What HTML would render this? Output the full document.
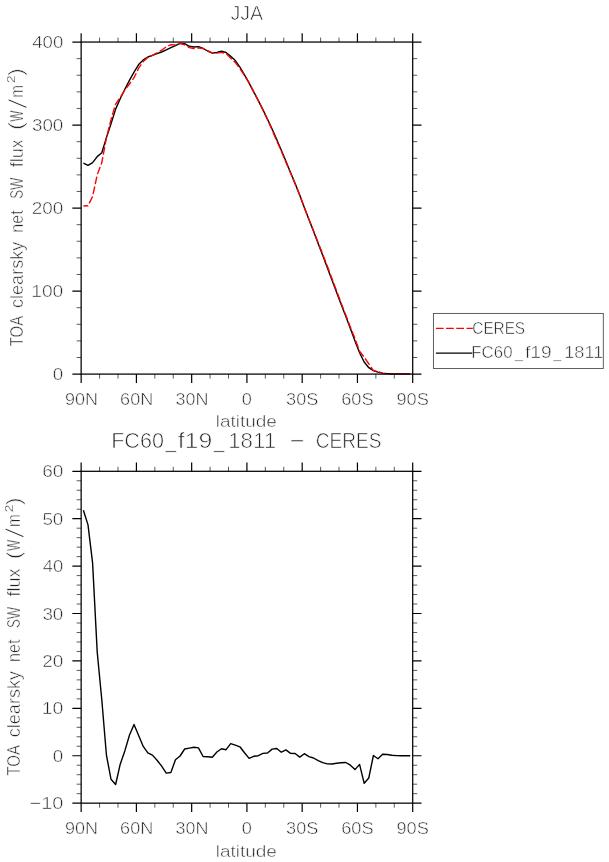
<!DOCTYPE html>
<html lang="en"><head><meta charset="utf-8"><title>JJA TOA clearsky net SW flux</title>
<style>html,body{margin:0;padding:0;background:#fff}body{width:609px;height:862px;overflow:hidden}svg{display:block}</style></head>
<body>
<svg width="609" height="862" viewBox="0 0 609 862" role="img" aria-label="JJA TOA clearsky net SW flux zonal mean line plots">
<rect width="609" height="862" fill="#fff"/>
<path d="M83.40,163.05 L88.00,165.40 L92.61,162.70 L97.21,156.60 L101.81,152.80 L106.42,137.60 L111.02,123.70 L115.62,109.10 L120.22,98.80 L124.83,89.20 L129.43,80.40 L134.03,72.20 L138.64,64.60 L143.24,59.90 L147.84,57.00 L152.44,55.30 L157.05,53.65 L161.65,52.00 L166.25,49.85 L170.86,47.70 L175.46,45.60 L180.06,43.40 L184.67,43.60 L189.27,46.30 L193.87,47.00 L198.47,46.60 L203.08,48.50 L207.68,51.00 L212.28,53.10 L216.89,52.50 L221.49,51.10 L226.09,52.50 L230.70,56.20 L235.30,60.60 L239.90,67.20 L244.50,74.80 L249.11,83.20 L253.71,91.90 L258.31,100.60 L262.92,109.65 L267.52,119.20 L272.12,129.00 L276.73,139.50 L281.33,150.30 L285.93,161.30 L290.53,172.60 L295.14,183.60 L299.74,195.20 L304.34,207.40 L308.95,219.60 L313.55,231.20 L318.15,243.40 L322.76,255.50 L327.36,267.80 L331.96,280.00 L336.56,292.20 L341.17,304.40 L345.77,316.30 L350.37,328.60 L354.98,341.00 L359.58,352.80 L364.18,362.00 L368.79,367.70 L373.39,370.60 L377.99,372.10 L382.60,373.10 L387.20,373.60 L391.80,373.80 L396.40,373.85 L401.01,373.90 L405.61,373.90 L410.21,373.90" fill="none" stroke="#000" stroke-width="1.4" stroke-linejoin="round"/>
<path d="M83.40,206.05 L88.00,205.82 L92.61,196.42 L97.21,174.77 L101.81,162.56 L106.42,137.73 L111.02,119.58 L115.62,104.06 L120.22,97.32 L124.83,90.05 L129.43,84.00 L134.03,77.69 L138.64,68.16 L143.24,61.54 L147.84,57.52 L152.44,55.41 L157.05,52.85 L161.65,50.19 L166.25,46.81 L170.86,44.77 L175.46,44.91 L180.06,43.35 L184.67,44.78 L189.27,47.64 L193.87,48.50 L198.47,47.97 L203.08,48.37 L207.68,50.81 L212.28,52.83 L216.89,53.16 L221.49,52.33 L226.09,53.56 L230.70,58.33 L235.30,62.45 L239.90,68.77 L244.50,75.32 L249.11,82.73 L253.71,91.80 L258.31,100.61 L262.92,110.06 L267.52,119.68 L272.12,130.16 L276.73,140.77 L281.33,150.92 L285.93,162.32 L290.53,173.01 L295.14,183.99 L299.74,194.96 L304.34,207.76 L308.95,219.45 L313.55,230.80 L318.15,242.55 L322.76,254.30 L327.36,266.37 L331.96,278.55 L336.56,290.88 L341.17,303.16 L345.77,315.12 L350.37,326.94 L354.98,338.57 L359.58,351.28 L364.18,357.17 L368.79,363.80 L373.39,370.64 L377.99,371.56 L382.60,373.35 L387.20,373.82 L391.80,373.88 L396.40,373.88 L401.01,373.91 L405.61,373.89 L410.21,373.89" fill="none" stroke="#f00" stroke-width="1.4" stroke-dasharray="7.7 2.5" stroke-dashoffset="2.9" stroke-linejoin="round"/>
<g stroke="#000" fill="none">
<g stroke-width="1.2">
<path d="M81.15,42.05V33.25M81.15,374.10V382.90"/>
<path d="M136.41,42.05V33.25M136.41,374.10V382.90"/>
<path d="M191.67,42.05V33.25M191.67,374.10V382.90"/>
<path d="M246.92,42.05V33.25M246.92,374.10V382.90"/>
<path d="M302.18,42.05V33.25M302.18,374.10V382.90"/>
<path d="M357.44,42.05V33.25M357.44,374.10V382.90"/>
<path d="M412.70,42.05V33.25M412.70,374.10V382.90"/>
<path d="M81.15,374.10H72.35M412.70,374.10H421.50"/>
<path d="M81.15,291.09H72.35M412.70,291.09H421.50"/>
<path d="M81.15,208.08H72.35M412.70,208.08H421.50"/>
<path d="M81.15,125.06H72.35M412.70,125.06H421.50"/>
<path d="M81.15,42.05H72.35M412.70,42.05H421.50"/>
</g><g stroke-width="0.65">
<path d="M99.57,42.05V37.55M99.57,374.10V378.60"/>
<path d="M117.99,42.05V37.55M117.99,374.10V378.60"/>
<path d="M154.83,42.05V37.55M154.83,374.10V378.60"/>
<path d="M173.25,42.05V37.55M173.25,374.10V378.60"/>
<path d="M210.09,42.05V37.55M210.09,374.10V378.60"/>
<path d="M228.51,42.05V37.55M228.51,374.10V378.60"/>
<path d="M265.34,42.05V37.55M265.34,374.10V378.60"/>
<path d="M283.76,42.05V37.55M283.76,374.10V378.60"/>
<path d="M320.60,42.05V37.55M320.60,374.10V378.60"/>
<path d="M339.02,42.05V37.55M339.02,374.10V378.60"/>
<path d="M375.86,42.05V37.55M375.86,374.10V378.60"/>
<path d="M394.28,42.05V37.55M394.28,374.10V378.60"/>
<path d="M81.15,357.50H76.65M412.70,357.50H417.20"/>
<path d="M81.15,340.90H76.65M412.70,340.90H417.20"/>
<path d="M81.15,324.29H76.65M412.70,324.29H417.20"/>
<path d="M81.15,307.69H76.65M412.70,307.69H417.20"/>
<path d="M81.15,274.49H76.65M412.70,274.49H417.20"/>
<path d="M81.15,257.88H76.65M412.70,257.88H417.20"/>
<path d="M81.15,241.28H76.65M412.70,241.28H417.20"/>
<path d="M81.15,224.68H76.65M412.70,224.68H417.20"/>
<path d="M81.15,191.47H76.65M412.70,191.47H417.20"/>
<path d="M81.15,174.87H76.65M412.70,174.87H417.20"/>
<path d="M81.15,158.27H76.65M412.70,158.27H417.20"/>
<path d="M81.15,141.67H76.65M412.70,141.67H417.20"/>
<path d="M81.15,108.46H76.65M412.70,108.46H417.20"/>
<path d="M81.15,91.86H76.65M412.70,91.86H417.20"/>
<path d="M81.15,75.25H76.65M412.70,75.25H417.20"/>
<path d="M81.15,58.65H76.65M412.70,58.65H417.20"/>
</g>
<rect x="81.15" y="42.05" width="331.55" height="332.05" stroke-width="1.25"/>
</g>
<path d="M83.40,510.20 L88.00,524.90 L92.61,563.20 L97.21,652.00 L101.81,700.00 L106.42,755.00 L111.02,779.30 L115.62,784.50 L120.22,764.20 L124.83,750.90 L129.43,735.20 L134.03,724.40 L138.64,735.40 L143.24,746.40 L147.84,752.80 L152.44,755.10 L157.05,760.30 L161.65,766.10 L166.25,773.10 L170.86,772.50 L175.46,759.70 L180.06,756.00 L184.67,749.00 L189.27,748.10 L193.87,747.20 L198.47,747.90 L203.08,756.50 L207.68,756.80 L212.28,757.30 L216.89,752.00 L221.49,748.70 L226.09,749.70 L230.70,743.60 L235.30,745.20 L239.90,746.80 L244.50,752.80 L249.11,758.40 L253.71,756.30 L258.31,755.70 L262.92,753.40 L267.52,753.00 L272.12,749.10 L276.73,748.50 L281.33,752.20 L285.93,749.90 L290.53,753.40 L295.14,753.50 L299.74,757.10 L304.34,753.70 L308.95,756.60 L313.55,758.00 L318.15,760.60 L322.76,762.60 L327.36,763.90 L331.96,764.00 L336.56,763.30 L341.17,762.80 L345.77,762.50 L350.37,765.20 L354.98,769.60 L359.58,764.40 L364.18,783.30 L368.79,778.00 L373.39,755.50 L377.99,758.80 L382.60,754.30 L387.20,754.50 L391.80,755.30 L396.40,755.60 L401.01,755.70 L405.61,755.80 L410.21,755.80" fill="none" stroke="#000" stroke-width="1.4" stroke-linejoin="round"/>
<g stroke="#000" fill="none">
<g stroke-width="1.2">
<path d="M81.15,471.30V462.50M81.15,803.15V811.95"/>
<path d="M136.41,471.30V462.50M136.41,803.15V811.95"/>
<path d="M191.67,471.30V462.50M191.67,803.15V811.95"/>
<path d="M246.92,471.30V462.50M246.92,803.15V811.95"/>
<path d="M302.18,471.30V462.50M302.18,803.15V811.95"/>
<path d="M357.44,471.30V462.50M357.44,803.15V811.95"/>
<path d="M412.70,471.30V462.50M412.70,803.15V811.95"/>
<path d="M81.15,803.15H72.35M412.70,803.15H421.50"/>
<path d="M81.15,755.74H72.35M412.70,755.74H421.50"/>
<path d="M81.15,708.34H72.35M412.70,708.34H421.50"/>
<path d="M81.15,660.93H72.35M412.70,660.93H421.50"/>
<path d="M81.15,613.52H72.35M412.70,613.52H421.50"/>
<path d="M81.15,566.11H72.35M412.70,566.11H421.50"/>
<path d="M81.15,518.71H72.35M412.70,518.71H421.50"/>
<path d="M81.15,471.30H72.35M412.70,471.30H421.50"/>
</g><g stroke-width="0.65">
<path d="M99.57,471.30V466.80M99.57,803.15V807.65"/>
<path d="M117.99,471.30V466.80M117.99,803.15V807.65"/>
<path d="M154.83,471.30V466.80M154.83,803.15V807.65"/>
<path d="M173.25,471.30V466.80M173.25,803.15V807.65"/>
<path d="M210.09,471.30V466.80M210.09,803.15V807.65"/>
<path d="M228.51,471.30V466.80M228.51,803.15V807.65"/>
<path d="M265.34,471.30V466.80M265.34,803.15V807.65"/>
<path d="M283.76,471.30V466.80M283.76,803.15V807.65"/>
<path d="M320.60,471.30V466.80M320.60,803.15V807.65"/>
<path d="M339.02,471.30V466.80M339.02,803.15V807.65"/>
<path d="M375.86,471.30V466.80M375.86,803.15V807.65"/>
<path d="M394.28,471.30V466.80M394.28,803.15V807.65"/>
<path d="M81.15,793.67H76.65M412.70,793.67H417.20"/>
<path d="M81.15,784.19H76.65M412.70,784.19H417.20"/>
<path d="M81.15,774.71H76.65M412.70,774.71H417.20"/>
<path d="M81.15,765.22H76.65M412.70,765.22H417.20"/>
<path d="M81.15,746.26H76.65M412.70,746.26H417.20"/>
<path d="M81.15,736.78H76.65M412.70,736.78H417.20"/>
<path d="M81.15,727.30H76.65M412.70,727.30H417.20"/>
<path d="M81.15,717.82H76.65M412.70,717.82H417.20"/>
<path d="M81.15,698.85H76.65M412.70,698.85H417.20"/>
<path d="M81.15,689.37H76.65M412.70,689.37H417.20"/>
<path d="M81.15,679.89H76.65M412.70,679.89H417.20"/>
<path d="M81.15,670.41H76.65M412.70,670.41H417.20"/>
<path d="M81.15,651.45H76.65M412.70,651.45H417.20"/>
<path d="M81.15,641.97H76.65M412.70,641.97H417.20"/>
<path d="M81.15,632.48H76.65M412.70,632.48H417.20"/>
<path d="M81.15,623.00H76.65M412.70,623.00H417.20"/>
<path d="M81.15,604.04H76.65M412.70,604.04H417.20"/>
<path d="M81.15,594.56H76.65M412.70,594.56H417.20"/>
<path d="M81.15,585.08H76.65M412.70,585.08H417.20"/>
<path d="M81.15,575.60H76.65M412.70,575.60H417.20"/>
<path d="M81.15,556.63H76.65M412.70,556.63H417.20"/>
<path d="M81.15,547.15H76.65M412.70,547.15H417.20"/>
<path d="M81.15,537.67H76.65M412.70,537.67H417.20"/>
<path d="M81.15,528.19H76.65M412.70,528.19H417.20"/>
<path d="M81.15,509.23H76.65M412.70,509.23H417.20"/>
<path d="M81.15,499.74H76.65M412.70,499.74H417.20"/>
<path d="M81.15,490.26H76.65M412.70,490.26H417.20"/>
<path d="M81.15,480.78H76.65M412.70,480.78H417.20"/>
</g>
<rect x="81.15" y="471.30" width="331.55" height="331.85" stroke-width="1.25"/>
</g>
<rect x="433.4" y="313.4" width="169.9" height="55.1" fill="none" stroke="#444" stroke-width="0.85"/>
<path d="M435.9,328.4H473.3" stroke="#f00" stroke-width="1.3" stroke-dasharray="7.7 2.5" fill="none"/>
<path d="M435.9,353.1H473.3" stroke="#000" stroke-width="1.3" fill="none"/>
<g font-family="'Liberation Sans', sans-serif" fill="#222" stroke="#fff" stroke-width="0.55">
<text x="230.39" y="20.30" font-size="20.90" textLength="32.75" lengthAdjust="spacingAndGlyphs" stroke-width="0.7">JJA</text>
<text x="52.86" y="380.10" font-size="17.30" textLength="10.47" lengthAdjust="spacingAndGlyphs" >0</text>
<text x="31.23" y="297.09" font-size="17.30" textLength="32.12" lengthAdjust="spacingAndGlyphs" >100</text>
<text x="31.75" y="214.08" font-size="17.30" textLength="31.59" lengthAdjust="spacingAndGlyphs" >200</text>
<text x="31.98" y="131.06" font-size="17.30" textLength="31.35" lengthAdjust="spacingAndGlyphs" >300</text>
<text x="32.27" y="48.05" font-size="17.30" textLength="31.05" lengthAdjust="spacingAndGlyphs" >400</text>
<text x="29.52" y="809.15" font-size="17.30" textLength="33.86" lengthAdjust="spacingAndGlyphs" >−10</text>
<text x="52.86" y="761.74" font-size="17.30" textLength="10.47" lengthAdjust="spacingAndGlyphs" >0</text>
<text x="41.66" y="714.34" font-size="17.30" textLength="21.70" lengthAdjust="spacingAndGlyphs" >10</text>
<text x="42.19" y="666.93" font-size="17.30" textLength="21.15" lengthAdjust="spacingAndGlyphs" >20</text>
<text x="42.43" y="619.52" font-size="17.30" textLength="20.90" lengthAdjust="spacingAndGlyphs" >30</text>
<text x="42.73" y="572.11" font-size="17.30" textLength="20.60" lengthAdjust="spacingAndGlyphs" >40</text>
<text x="42.40" y="524.71" font-size="17.30" textLength="20.94" lengthAdjust="spacingAndGlyphs" >50</text>
<text x="42.18" y="477.30" font-size="17.30" textLength="21.16" lengthAdjust="spacingAndGlyphs" >60</text>
<text x="64.96" y="405.00" font-size="17.30" textLength="33.01" lengthAdjust="spacingAndGlyphs" >90N</text>
<text x="120.14" y="405.00" font-size="17.30" textLength="33.09" lengthAdjust="spacingAndGlyphs" >60N</text>
<text x="175.63" y="405.00" font-size="17.30" textLength="32.84" lengthAdjust="spacingAndGlyphs" >30N</text>
<text x="241.86" y="405.00" font-size="17.30" textLength="10.12" lengthAdjust="spacingAndGlyphs" >0</text>
<text x="286.14" y="405.00" font-size="17.30" textLength="32.22" lengthAdjust="spacingAndGlyphs" >30S</text>
<text x="341.17" y="405.00" font-size="17.30" textLength="32.46" lengthAdjust="spacingAndGlyphs" >60S</text>
<text x="396.50" y="405.00" font-size="17.30" textLength="32.39" lengthAdjust="spacingAndGlyphs" >90S</text>
<text x="215.72" y="427.30" font-size="17.30" textLength="61.22" lengthAdjust="spacingAndGlyphs" >latitude</text>
<text x="64.96" y="834.25" font-size="17.30" textLength="33.01" lengthAdjust="spacingAndGlyphs" >90N</text>
<text x="120.14" y="834.25" font-size="17.30" textLength="33.09" lengthAdjust="spacingAndGlyphs" >60N</text>
<text x="175.63" y="834.25" font-size="17.30" textLength="32.84" lengthAdjust="spacingAndGlyphs" >30N</text>
<text x="241.86" y="834.25" font-size="17.30" textLength="10.12" lengthAdjust="spacingAndGlyphs" >0</text>
<text x="286.14" y="834.25" font-size="17.30" textLength="32.22" lengthAdjust="spacingAndGlyphs" >30S</text>
<text x="341.17" y="834.25" font-size="17.30" textLength="32.46" lengthAdjust="spacingAndGlyphs" >60S</text>
<text x="396.50" y="834.25" font-size="17.30" textLength="32.39" lengthAdjust="spacingAndGlyphs" >90S</text>
<text x="215.72" y="856.55" font-size="17.30" textLength="61.22" lengthAdjust="spacingAndGlyphs" >latitude</text>
<text x="472.32" y="334.30" font-size="17.30" textLength="52.78" lengthAdjust="spacingAndGlyphs" >CERES</text>
<text y="358.30" font-size="17.30" ><tspan x="471.32" textLength="41.19" lengthAdjust="spacingAndGlyphs" y="358.30">FC60</tspan><tspan x="514.92" textLength="7.92" lengthAdjust="spacingAndGlyphs" y="358.30">_</tspan><tspan x="524.93" textLength="26.89" lengthAdjust="spacingAndGlyphs" y="358.30">f19</tspan><tspan x="553.32" textLength="7.92" lengthAdjust="spacingAndGlyphs" y="358.30">_</tspan><tspan x="564.26" textLength="39.10" lengthAdjust="spacingAndGlyphs" y="358.30">1811</tspan></text>
<text y="448.30" font-size="21.90" stroke-width="0.7"><tspan x="111.13" textLength="52.82" lengthAdjust="spacingAndGlyphs" y="448.30">FC60</tspan><tspan x="165.39" textLength="10.60" lengthAdjust="spacingAndGlyphs" y="448.30">_</tspan><tspan x="177.65" textLength="34.63" lengthAdjust="spacingAndGlyphs" y="448.30">f19</tspan><tspan x="213.99" textLength="10.50" lengthAdjust="spacingAndGlyphs" y="448.30">_</tspan><tspan x="228.16" textLength="47.89" lengthAdjust="spacingAndGlyphs" y="448.30">1811</tspan> <tspan x="289.66" textLength="14.66" lengthAdjust="spacingAndGlyphs" y="448.30">−</tspan> <tspan x="315.73" textLength="65.85" lengthAdjust="spacingAndGlyphs" y="448.30">CERES</tspan></text>
<g transform="translate(22.50,207.90) rotate(-90)">
<text y="0.00" font-size="18.34" ><tspan x="-138.48" textLength="29.75" lengthAdjust="spacingAndGlyphs" y="0.00">TOA</tspan> <tspan x="-100.12" textLength="66.30" lengthAdjust="spacingAndGlyphs" y="0.00">clearsky</tspan> <tspan x="-24.92" textLength="22.49" lengthAdjust="spacingAndGlyphs" y="0.00">net</tspan> <tspan x="9.05" textLength="21.14" lengthAdjust="spacingAndGlyphs" y="0.00">SW</tspan> <tspan x="40.69" textLength="28.05" lengthAdjust="spacingAndGlyphs" y="0.00">flux</tspan> <tspan x="77.80" textLength="7.79" lengthAdjust="spacingAndGlyphs" y="0.30" font-size="19.38">(</tspan><tspan x="86.10" textLength="11.29" lengthAdjust="spacingAndGlyphs" y="0.00">W</tspan><tspan x="98.75" textLength="11.20" lengthAdjust="spacingAndGlyphs" y="4.00" font-size="25.50" stroke-width="1.25">/</tspan><tspan x="110.13" textLength="12.84" lengthAdjust="spacingAndGlyphs" y="0.00">m</tspan><tspan x="124.97" textLength="7.57" lengthAdjust="spacingAndGlyphs" y="-7.10" font-size="10.29" stroke-width="0.25">2</tspan><tspan x="132.43" textLength="7.03" lengthAdjust="spacingAndGlyphs" y="0.30" font-size="19.38">)</tspan></text>
</g>
<g transform="translate(20.20,637.15) rotate(-90)">
<text y="0.00" font-size="18.34" ><tspan x="-138.48" textLength="29.75" lengthAdjust="spacingAndGlyphs" y="0.00">TOA</tspan> <tspan x="-100.12" textLength="66.30" lengthAdjust="spacingAndGlyphs" y="0.00">clearsky</tspan> <tspan x="-24.92" textLength="22.49" lengthAdjust="spacingAndGlyphs" y="0.00">net</tspan> <tspan x="9.05" textLength="21.14" lengthAdjust="spacingAndGlyphs" y="0.00">SW</tspan> <tspan x="40.69" textLength="28.05" lengthAdjust="spacingAndGlyphs" y="0.00">flux</tspan> <tspan x="77.80" textLength="7.79" lengthAdjust="spacingAndGlyphs" y="0.30" font-size="19.38">(</tspan><tspan x="86.10" textLength="11.29" lengthAdjust="spacingAndGlyphs" y="0.00">W</tspan><tspan x="98.75" textLength="11.20" lengthAdjust="spacingAndGlyphs" y="4.00" font-size="25.50" stroke-width="1.25">/</tspan><tspan x="110.13" textLength="12.84" lengthAdjust="spacingAndGlyphs" y="0.00">m</tspan><tspan x="124.97" textLength="7.57" lengthAdjust="spacingAndGlyphs" y="-7.10" font-size="10.29" stroke-width="0.25">2</tspan><tspan x="132.43" textLength="7.03" lengthAdjust="spacingAndGlyphs" y="0.30" font-size="19.38">)</tspan></text>
</g>
</g>
</svg>
</body></html>
